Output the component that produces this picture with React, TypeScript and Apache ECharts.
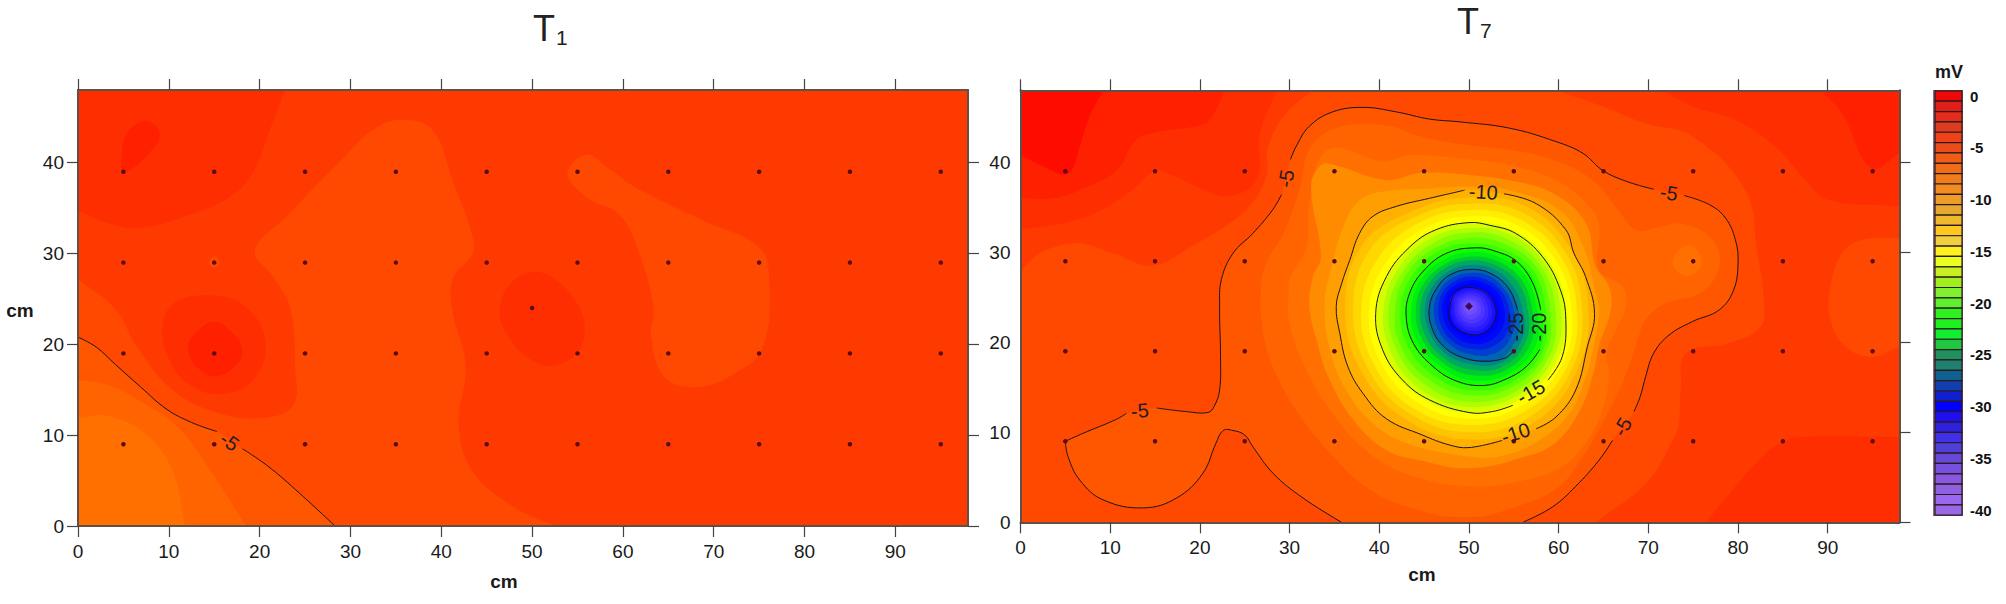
import React, { useEffect, useRef } from "react";
import * as echarts from "echarts";

type P = number[];
const FONT = "'Liberation Sans', Arial, sans-serif";

const X_TICKS = [0, 10, 20, 30, 40, 50, 60, 70, 80, 90];
const Y_TICKS = [0, 10, 20, 30, 40];
const X_MAX = 98;
const Y_MAX = 48;
const SENSOR_X = [5, 15, 25, 35, 45, 55, 65, 75, 85, 95];
const SENSOR_Y = [39, 29, 19, 9];
const CENTER_SENSOR = [50, 24];
const LEGEND_TICK_LEVELS = [0, -5, -10, -15, -20, -25, -30, -35, -40];

// colour of the band between level -k and level -(k+1)
const BAND_COLORS = [
  "#FF0C00", "#FF2000", "#FF2E00", "#FF3A00", "#FF4800", "#FF5600", "#FF6400", "#FF7000", "#FF8C00", "#FF9E00",
  "#FFB000", "#FFC400", "#FFD800", "#FFEE00", "#FFFF00", "#D8FF00", "#B0FF00", "#88FF00", "#60FF00", "#38FF00",
  "#10FF00", "#00EE10", "#00CC30", "#00A860", "#008888", "#0064B0", "#0040D0", "#0020E8", "#0008FA", "#0000FF",
  "#1810FF", "#2A1CFF", "#3C28FF", "#4E34FF", "#6040FF", "#704CFF", "#8058FF", "#8858FF", "#8C60FF", "#9060FF", "#9966FF",
];
const LEGEND_COLORS = [
  "#EE0808", "#E02018", "#E62C1C", "#DE3C20", "#F04218", "#EC4C1A", "#F05C14", "#F06C18", "#F07C1C", "#F08C20",
  "#EE9C28", "#E8A830", "#F0B82C", "#FFC820", "#F0D040", "#FFF020", "#E8FF20", "#C8F020", "#A0F020", "#80F030",
  "#60F030", "#30F020", "#20F020", "#10F030", "#20C840", "#209060", "#208070", "#106090", "#1040B0", "#1020D0",
  "#0000FF", "#2010F0", "#3020E0", "#4030E8", "#5040D8", "#6848D8", "#7850E0", "#8858E0", "#9060E0", "#9868F0", "#9868E8",
];

// ---------- T1: filled bands (x cm, y cm, corner flag) ----------
const FULL_PLOT: P[] = [[0, 0, 1], [98, 0, 1], [98, 48, 1], [0, 48, 1]];
const T1_TOPLEFT_2: P[] = [[0, 48, 1], [22.8, 48, 1], [20.9, 43], [19.2, 38.8], [16.7, 36.2], [11.8, 34.1], [6.9, 32.8], [3.4, 33.3], [0, 34.7, 1]];
const T1_TOPLEFT_1: P[] = [[4.8, 40.9], [5.5, 43.4], [7.6, 44.6], [9, 43.2], [7.9, 41.1], [5.1, 39]];
const T1_MID_4: P[] = [[0, 27.2, 1], [4.1, 23.9], [6.5, 19.7], [10.4, 15], [15.3, 12.5], [20.2, 11.9], [23.7, 13.3], [23.9, 17.6], [23.4, 23.9], [21.6, 27.3], [19.5, 30.3], [23, 34.1], [28.7, 40], [32.9, 43.9], [36.4, 44.7], [39.2, 43.4], [41.3, 37.9], [43.4, 32], [43.4, 29.9], [41.3, 27.3], [41.2, 23.9], [42.7, 17.6], [41.9, 11.2], [43.4, 6.1], [47.6, 2.3], [52.5, 0, 1], [0, 0, 1]];
const T1_RIGHT_4: P[] = [[53.9, 38.8], [56, 40.9], [58.1, 39.6], [61.7, 37.1], [68.7, 33.7], [75, 30.7], [76.1, 27.3], [75.4, 19.7], [72.2, 16.7], [68, 15.3], [64.5, 16.5], [63.1, 21], [63.4, 23.9], [61.7, 30.3], [59.6, 34.3], [56, 36.2]];
const T1_SPOT50_2: P[] = [[46.4, 23.5], [47.6, 26.7], [50.3, 28], [52.9, 26.9], [55, 24.4], [55.8, 21.9], [55, 19.1], [52.2, 17.6], [49.4, 18.6], [47.3, 21]];
const T1_SPOT15_2: P[] = [[9.3, 21.8], [10.4, 24.4], [13.9, 25.4], [18.1, 24.4], [20.6, 20.6], [19.5, 16.3], [15.7, 14.5], [11.8, 15.9], [9.8, 18.9]];
const T1_SPOT15_1: P[] = [[12.1, 19.5], [12.9, 21.2], [15, 22.5], [17.1, 21.2], [18.1, 19.5], [17.5, 17.8], [15.3, 16.5], [13.2, 17.4]];
const T1_SPOT29_4: P[] = [[14.4, 29], [15, 29.7], [15.6, 29], [15, 28.4]];
const T1_M5_A: P[] = [[0, 20.8, 1], [2, 19.7], [4.1, 17.8], [6.9, 15.3], [9.7, 12.9], [12.5, 11.4], [15.3, 10.4]];
const T1_M5_B: P[] = [[18.1, 8.5], [20.9, 6.6], [24.4, 3.6], [28.3, 0, 1]];
const T1_LOW_6: P[] = [[0, 16.1, 1], [3.4, 15.5], [7.6, 13.3], [11.1, 10.8], [14.6, 6.1], [18.5, 0, 1], [0, 0, 1]];
const T1_LOW_7: P[] = [[0, 11.9, 1], [3.4, 12.1], [7.6, 10], [10.4, 6.1], [11.8, 0, 1], [0, 0, 1]];

// ---------- T7: outer bands ----------
const T7_LEFT_3: P[] = [[0, 27.9, 1], [2.2, 29.9], [6.3, 31], [10.3, 29.9], [13.7, 28.6], [15.9, 28.8], [18.9, 30.6], [22.2, 32.5], [25.5, 35.1], [27.4, 38.4], [27.6, 41.7], [29.6, 45.4], [32.6, 48, 1], [0, 48, 1]];
const T7_LEFT_2: P[] = [[0, 32.5, 1], [6.3, 33.6], [10.3, 35.4], [12.9, 37.3], [15, 39.1], [16.3, 38.8], [19.6, 37.3], [23, 36.2], [26.3, 38], [26.7, 43.2], [28.6, 48, 1], [0, 48, 1]];
const T7_LEFT_1: P[] = [[0, 36, 1], [3.7, 36], [7, 37.1], [10.7, 39.1], [12.9, 42.5], [15.5, 43.4], [19.6, 44], [21.1, 44.7], [22.8, 48, 1], [0, 48, 1]];
const T7_LEFT_0: P[] = [[0, 40.8, 1], [3, 39.3], [5, 38.6], [5.9, 39.5], [6.6, 41.7], [7.7, 45.1], [9.2, 48, 1], [0, 48, 1]];
const T7_RIGHT_3: P[] = [[59.7, 48, 1], [64.9, 46.2], [69.7, 44.3], [74.9, 42.9], [80.8, 36.9], [82.1, 30.3], [82.9, 24.3], [82.5, 21.7], [79, 19.9], [74.2, 18.8], [73.6, 14.7], [73.4, 11], [72.7, 9.1], [69.7, 4.3], [64.1, 0, 1], [98, 0, 1], [98, 48, 1]];
const T7_RIGHT_SPOT_4: P[] = [[98, 31.6, 1], [93.8, 31.4], [91.6, 29.9], [90.3, 26.2], [90.3, 22.5], [92, 19.5], [94.9, 18.4], [98, 19.5, 1]];
const T7_RIGHT_TOP_2: P[] = [[71.6, 48, 1], [74.9, 46.2], [79.7, 44.7], [84.2, 41.7], [87.5, 38], [90.1, 35.8], [98, 35.1, 1], [98, 48, 1]];
const T7_RIGHT_TOP_1: P[] = [[89.2, 48, 1], [91.6, 45.4], [94.9, 39.3], [98, 41, 1], [98, 48, 1]];
const T7_RIGHT_LOW_2: P[] = [[76.4, 0, 1], [82.3, 6.9], [85.3, 9.1], [87.9, 9.5], [98, 9.5, 1], [98, 0, 1]];

// contour -5 in T7, pieces between its labels
const T7_M5_A: P[] = [[35.8, 0, 1], [31.5, 2.7], [28.2, 5.4], [25.9, 8.4], [25, 9.7], [23.7, 10.2], [22.6, 10.2], [21.8, 8.8], [20.3, 5.4], [17.4, 2.7], [13.7, 1.6], [9.2, 2.5], [6.6, 4.7], [5.3, 7.3], [5, 9]];
const T7_M5_B: P[] = [[5, 9], [7, 9.9], [10.6, 11.4], [11.8, 12.1]];
const T7_M5_C: P[] = [[15.2, 12.7], [18.5, 12.3], [20.9, 12.2], [21.6, 12.9], [22.2, 14.7], [22.3, 18.4], [22.2, 24], [22.4, 27], [23.7, 29.9], [25.9, 32.1], [28.1, 34.7], [29.1, 36.4]];
const T7_M5_D: P[] = [[30.1, 40.3], [30.7, 41.7], [32.2, 44], [34.8, 45.6], [38.2, 46.1], [41.9, 45.6], [45.6, 44.8], [48.9, 44.5], [54.5, 43.8], [59.7, 42.3], [62.7, 41], [64.9, 39.1], [67.5, 37.9], [70.6, 37]];
const T7_M5_E: P[] = [[74, 36.3], [76.8, 35.3], [78.6, 33.8], [79.7, 31.4], [80, 28.8], [79.5, 25.8], [77.9, 23.6], [74.9, 22.3], [72.3, 20.8], [70.6, 18.8], [69.7, 16.2], [69.1, 14], [68.4, 12.3]];
const T7_M5_F: P[] = [[66, 9.1], [64.5, 6.9], [61.9, 4], [59.3, 1.7], [56, 0, 1]];

const T7_M6: P[] = [[50, 0.55], [43, 1.75], [38.5, 3.95], [34.5, 7.7], [30.7, 12.5], [28.1, 17.3], [27, 21.4], [26.8, 25.8], [27.4, 28.8], [29.3, 32.1], [31.1, 36.9], [32.2, 41.4], [35.2, 43.8], [40.8, 44.1], [44.5, 42.9], [50, 41.9], [54.5, 41.4], [59.3, 40.3], [63.8, 38], [66.4, 35], [68.6, 32.5], [71.2, 32.8], [73.4, 33.2], [76.4, 32.1], [77.9, 29.9], [77.5, 27.3], [75.6, 25.4], [71.9, 24.3], [69.7, 22.5], [68.6, 19.5], [67.1, 15.5], [64.9, 11], [62.7, 7.3], [60.1, 4], [56.3, 2.1]];
const T7_SPOT75: P[] = [[72.7, 29], [73.6, 30.4], [74.9, 30.7], [76, 29], [74.9, 27.5], [73.4, 27.7]];
const T7_M7: P[] = [[50, 4], [43, 5.4], [38.5, 8], [34.5, 12.5], [31.5, 17.7], [30, 22.1], [29.9, 25.8], [30.1, 27.3], [31.9, 30.6], [32.2, 35.4], [33.3, 40.3], [35.2, 41.6], [40.4, 40.1], [43.4, 40.8], [50, 40.3], [54.5, 39.7], [59.7, 38], [63.4, 35.1], [64.5, 32.9], [64.5, 28], [67.1, 26.2], [67.5, 24], [66.4, 21.4], [65.3, 18.8], [65.6, 16.6], [64.9, 12.5], [63, 8.8], [60.4, 6.2], [56.3, 4.7]];
const T7_M8: P[] = [[50, 6], [44.5, 6.9], [40.8, 8], [37.1, 11.4], [34.3, 16.2], [33, 20.3], [32.2, 24], [32.6, 27.3], [33.5, 29.5], [32.4, 37.3], [33.5, 39.7], [35, 39.7], [40.8, 38], [44.5, 38.8], [50, 38.6], [54.5, 38], [59.3, 36.6], [63, 33.3], [64.1, 28.5], [65.6, 26.2], [65.8, 23.6], [64.5, 19.6], [63.8, 16.3], [62.3, 12.3], [59.7, 8.9], [56.3, 7.3]];
const T7_M9: P[] = [[50, 7.3], [43, 8.8], [39.3, 11], [36.3, 14.7], [34.5, 19.1], [33.9, 24], [34.5, 27.7], [36.5, 34], [38.5, 36.2], [41.9, 36.9], [46, 37.1], [50, 37.3], [54.5, 36.9], [60.1, 34.7], [62.7, 30.7], [64.1, 25.6], [64.5, 23.4], [63.8, 19.1], [63, 16.1], [61.2, 12.1], [57.8, 9.1], [53.7, 7.4]];

// contour lines around the minimum
const T7_M10_A: P[] = [[53.9, 36.5], [57.5, 35.4], [60.8, 32.5], [61.7, 29.9], [63, 27.3], [64, 23.2], [63.2, 19.5], [61.9, 14.7], [59.7, 11.7], [57.5, 10.4]];
const T7_M10_B: P[] = [[53.7, 9.1], [50, 8.3], [47.8, 8.6], [44.8, 9.7], [40.8, 11.5], [38.2, 14.3], [36.5, 17.3], [35.6, 21], [35.2, 24], [35.8, 26.5], [36.7, 29.1], [37.8, 32.1], [39.3, 34], [41.9, 35.1], [45.6, 36], [49.5, 36.9]];
const T7_M15: P[] = [[58.8, 15.8], [60.4, 18.4], [60.8, 22.5], [60.2, 25.8], [58.2, 29.5], [55.2, 32.1], [52.3, 33], [50, 33.3], [46.3, 32.5], [43.4, 30.6], [40.8, 27.3], [39.6, 23.2], [40.4, 19.1], [42.6, 15.8], [45.6, 13.6], [50, 12.2], [52.6, 12.3], [54.9, 13]];
const T7_M20: P[] = [[58, 23.6], [57.1, 26.6], [55.3, 29], [53, 30.1], [50.8, 30.5], [47.5, 29.9], [44.9, 27.9], [43.4, 25.5], [43, 22.9], [43.8, 19.9], [46, 17.3], [48.6, 15.7], [51.6, 15.2], [54.1, 15.9], [56.4, 17.3], [57.9, 19.2]];
const T7_M25: P[] = [[55.4, 23.6], [54.5, 25.9], [52.7, 27.5], [50.4, 28.1], [47.9, 27.5], [46.4, 26], [45.6, 24], [45.8, 21.8], [47.1, 19.6], [49.3, 18.3], [51.9, 17.9], [54.1, 18.3], [55.1, 19.2]];
const T7_M30: P[] = [[50.1, 26.1], [48.6, 25.7], [47.9, 24], [48, 22.1], [49.7, 21], [51.6, 21], [52.9, 22.5], [52.9, 24], [51.9, 25.5]];

// inner bands: radius (cm) from the minimum, along these directions
const PEAK_CENTER = [50, 24];
const PEAK_ANGLES = [0, 30, 60, 90, 120, 150, 180, 210, 240, 270, 300, 330];
const PEAK_LEVELS = [11, 12, 13, 14, 15, 16, 17, 18, 19, 20, 21, 22, 23, 24, 25, 26, 27, 28, 29, 30, 31, 32, 33, 34, 35, 36];
const PEAK_RADII = [
  [13.3, 13.0, 12.8, 12.1, 12.3, 13.7, 13.8, 14.0, 14.4, 14.8, 14.8, 14.0],
  [12.6, 12.3, 12.0, 11.4, 11.6, 12.7, 12.9, 13.2, 13.6, 14.0, 14.0, 13.4],
  [12.0, 11.6, 11.2, 10.7, 10.8, 11.4, 12.0, 12.4, 12.9, 13.2, 13.2, 12.8],
  [11.4, 10.9, 10.5, 10.0, 10.0, 10.4, 11.1, 11.6, 12.1, 12.5, 12.5, 12.2],
  [10.8, 10.2, 9.75, 9.3, 9.3, 9.5, 10.2, 10.8, 11.4, 11.8, 11.8, 11.5],
  [10.2, 9.7, 9.2, 8.7, 8.7, 8.9, 9.5, 10.1, 10.7, 11.2, 11.3, 11.0],
  [9.6, 9.2, 8.6, 8.2, 8.1, 8.3, 8.9, 9.4, 10.0, 10.6, 10.8, 10.5],
  [9.0, 8.7, 8.0, 7.6, 7.5, 7.8, 8.2, 8.8, 9.3, 9.9, 10.2, 10.0],
  [8.5, 8.2, 7.4, 7.0, 7.0, 7.2, 7.6, 8.1, 8.6, 9.3, 9.7, 9.6],
  [8.0, 7.7, 6.9, 6.5, 6.4, 6.6, 7.0, 7.5, 7.8, 8.8, 9.2, 9.2],
  [7.5, 7.1, 6.4, 6.0, 5.9, 6.1, 6.4, 6.9, 7.3, 8.2, 8.7, 8.6],
  [7.0, 6.5, 5.9, 5.5, 5.4, 5.6, 5.9, 6.3, 6.8, 7.6, 8.2, 8.0],
  [6.5, 6.0, 5.4, 5.1, 5.0, 5.1, 5.4, 5.8, 6.3, 7.0, 7.7, 7.4],
  [5.9, 5.3, 4.9, 4.6, 4.5, 4.6, 4.9, 5.2, 5.8, 6.4, 7.2, 6.9],
  [5.4, 4.7, 4.4, 4.15, 4.1, 4.15, 4.4, 4.7, 5.3, 5.9, 6.8, 6.3],
  [4.9, 4.3, 4.0, 3.7, 3.65, 3.7, 3.9, 4.2, 4.7, 5.3, 6.0, 5.7],
  [4.4, 3.9, 3.5, 3.3, 3.2, 3.3, 3.4, 3.7, 4.2, 4.7, 5.2, 5.1],
  [3.9, 3.5, 3.1, 2.9, 2.8, 2.9, 3.0, 3.2, 3.6, 4.1, 4.5, 4.4],
  [3.4, 3.0, 2.7, 2.5, 2.4, 2.55, 2.55, 2.75, 3.1, 3.6, 3.9, 3.8],
  [2.9, 2.6, 2.3, 2.1, 2.05, 2.25, 2.15, 2.35, 2.7, 3.1, 3.3, 3.2],
  [2.5, 2.25, 2.0, 1.85, 1.8, 1.95, 1.85, 2.05, 2.35, 2.7, 2.9, 2.8],
  [2.1, 1.9, 1.7, 1.55, 1.5, 1.65, 1.55, 1.75, 2.0, 2.3, 2.5, 2.4],
  [1.7, 1.55, 1.35, 1.25, 1.2, 1.3, 1.25, 1.4, 1.6, 1.9, 2.0, 1.95],
  [1.3, 1.15, 1.0, 0.95, 0.9, 1.0, 0.95, 1.05, 1.2, 1.45, 1.5, 1.5],
  [0.9, 0.8, 0.7, 0.65, 0.6, 0.7, 0.65, 0.7, 0.8, 1.0, 1.0, 1.0],
  [0.5, 0.45, 0.4, 0.35, 0.35, 0.4, 0.35, 0.4, 0.45, 0.55, 0.55, 0.55],
];

// contour labels: text, x, y, rotation in degrees
const T1_LABELS: any[][] = [["-5", 16.7, 9.3, -35]];
const T7_LABELS: any[][] = [
  ["-5", 13.3, 12.4, 5], ["-5", 29.6, 38.2, 80], ["-5", 72.3, 36.6, -8], ["-5", 67.1, 10.6, 60],
  ["-10", 51.6, 36.7, -3], ["-10", 55.2, 9.9, 18], ["-15", 56.9, 14.5, 30], ["-20", 57.8, 21.7, 90], ["-25", 55.2, 21.7, 90],
];

type Region = { band: number; pts: P[] };
const T1_REGIONS: Region[] = [
  { band: 3, pts: FULL_PLOT },
  { band: 2, pts: T1_TOPLEFT_2 },
  { band: 1, pts: T1_TOPLEFT_1 },
  { band: 4, pts: T1_MID_4 },
  { band: 4, pts: T1_RIGHT_4 },
  { band: 2, pts: T1_SPOT50_2 },
  { band: 2, pts: T1_SPOT15_2 },
  { band: 1, pts: T1_SPOT15_1 },
  { band: 4, pts: T1_SPOT29_4 },
  { band: 5, pts: [...T1_M5_A, ...T1_M5_B, [0, 0, 1]] },
  { band: 6, pts: T1_LOW_6 },
  { band: 7, pts: T1_LOW_7 },
];
const peakRegions: Region[] = PEAK_LEVELS.map((band, i) => ({
  band,
  pts: PEAK_ANGLES.map((a, j) => [
    PEAK_CENTER[0] + PEAK_RADII[i][j] * Math.cos((a * Math.PI) / 180),
    PEAK_CENTER[1] + PEAK_RADII[i][j] * Math.sin((a * Math.PI) / 180),
  ]),
}));
const T7_REGIONS: Region[] = [
  { band: 4, pts: FULL_PLOT },
  { band: 3, pts: T7_LEFT_3 },
  { band: 2, pts: T7_LEFT_2 },
  { band: 1, pts: T7_LEFT_1 },
  { band: 0, pts: T7_LEFT_0 },
  { band: 3, pts: T7_RIGHT_3 },
  { band: 4, pts: T7_RIGHT_SPOT_4 },
  { band: 2, pts: T7_RIGHT_TOP_2 },
  { band: 1, pts: T7_RIGHT_TOP_1 },
  { band: 2, pts: T7_RIGHT_LOW_2 },
  { band: 5, pts: [...T7_M5_A, ...T7_M5_B, ...T7_M5_C, ...T7_M5_D, ...T7_M5_E, ...T7_M5_F] },
  { band: 6, pts: T7_M6 },
  { band: 7, pts: T7_SPOT75 },
  { band: 7, pts: T7_M7 },
  { band: 8, pts: T7_M8 },
  { band: 9, pts: T7_M9 },
  { band: 10, pts: [...T7_M10_A, ...T7_M10_B] },
  ...peakRegions,
];
const T1_LINES: { pts: P[]; closed?: boolean }[] = [{ pts: T1_M5_A }, { pts: T1_M5_B }];
const T7_LINES: { pts: P[]; closed?: boolean }[] = [
  { pts: T7_M5_A }, { pts: T7_M5_B }, { pts: T7_M5_C }, { pts: T7_M5_D }, { pts: T7_M5_E }, { pts: T7_M5_F },
  { pts: T7_M10_A }, { pts: T7_M10_B }, { pts: T7_M15 }, { pts: T7_M20 }, { pts: T7_M25 }, { pts: T7_M30, closed: true },
];

const SMOOTH = 0.4;
const expand = (pts: P[]) => pts.flatMap((p) => (p[2] ? [p, p] : [p]));
const sensors = [...SENSOR_Y.flatMap((y) => SENSOR_X.map((x) => [x, y])), CENTER_SENSOR];

function areaSeries(regions: Region[], axis: number) {
  return {
    type: "custom", xAxisIndex: axis, yAxisIndex: axis, clip: true, silent: true, z: 1,
    data: regions.map((r) => [r.pts[0][0], r.pts[0][1]]),
    renderItem: (params: any, api: any) => {
      const r = regions[params.dataIndex];
      return {
        type: "polygon",
        shape: { points: expand(r.pts).map((p) => api.coord([p[0], p[1]])), smooth: SMOOTH },
        style: { fill: BAND_COLORS[r.band], stroke: "none" },
      };
    },
  };
}
function lineSeries(lines: { pts: P[]; closed?: boolean }[], axis: number) {
  return {
    type: "custom", xAxisIndex: axis, yAxisIndex: axis, clip: true, silent: true, z: 2,
    data: lines.map((l) => [l.pts[0][0], l.pts[0][1]]),
    renderItem: (params: any, api: any) => {
      const l = lines[params.dataIndex];
      const points = l.pts.map((p) => api.coord([p[0], p[1]]));
      return {
        type: l.closed ? "polygon" : "polyline",
        shape: { points, smooth: SMOOTH },
        style: { fill: "none", stroke: "#1c1420", lineWidth: 1 },
      };
    },
  };
}
function labelSeries(labels: any[][], axis: number) {
  return {
    type: "custom", xAxisIndex: axis, yAxisIndex: axis, clip: false, silent: true, z: 4,
    data: labels.map((l) => [l[1], l[2]]),
    renderItem: (params: any, api: any) => {
      const l = labels[params.dataIndex];
      const c = api.coord([l[1], l[2]]);
      return {
        type: "text", x: c[0], y: c[1], rotation: (l[3] * Math.PI) / 180,
        style: { text: l[0], fill: "#241a28", font: `20px ${FONT}`, align: "center", verticalAlign: "middle" },
      };
    },
  };
}
function sensorSeries(axis: number, centerDiamond: boolean) {
  return {
    type: "scatter", xAxisIndex: axis, yAxisIndex: axis, silent: true, z: 3,
    symbol: "circle", symbolSize: 4.5,
    itemStyle: { color: "#5a0c14", opacity: 1 },
    data: sensors.map((s) =>
      centerDiamond && s === CENTER_SENSOR
        ? { value: s, symbol: "diamond", symbolSize: 8, itemStyle: { color: "#3a0a50" } }
        : { value: s }
    ),
  };
}
const TICK = { show: true, length: 11, lineStyle: { color: "#444", width: 1.2 } };
const FRAME = { show: true, onZero: false, lineStyle: { color: "#5f5048", width: 2 } };
const NUM = { color: "#1a1a1a", fontFamily: FONT, fontSize: 19 };

function xAxes(grid: number) {
  const base = { type: "value", gridIndex: grid, min: 0, max: X_MAX, interval: 10, splitLine: { show: false }, z: 5, axisLine: FRAME };
  return [
    { ...base, position: "bottom", axisTick: { ...TICK, customValues: X_TICKS }, axisLabel: { ...NUM, margin: 16, customValues: X_TICKS } },
    { ...base, position: "top", axisTick: { ...TICK, customValues: X_TICKS }, axisLabel: { show: false } },
  ];
}
function yAxes(grid: number, leftTicks: boolean, margin: number) {
  const base = { type: "value", gridIndex: grid, min: 0, max: Y_MAX, interval: 10, splitLine: { show: false }, z: 5, axisLine: FRAME };
  return [
    {
      ...base, position: "left",
      axisTick: leftTicks ? { ...TICK, customValues: Y_TICKS } : { show: false },
      axisLabel: { ...NUM, margin, customValues: Y_TICKS },
    },
    { ...base, position: "right", axisTick: { ...TICK, customValues: Y_TICKS }, axisLabel: { show: false } },
  ];
}
const titleRich = {
  a: { fontFamily: FONT, fontSize: 36, color: "#222", fontWeight: "normal" as const },
  b: { fontFamily: FONT, fontSize: 21, color: "#222", fontWeight: "normal" as const, padding: [18, 0, 0, 1] },
};
const boldText = (text: string, x: number, y: number, size: number) => ({
  type: "text", x, y,
  style: { text, fill: "#1a1a1a", font: `bold ${size}px ${FONT}`, align: "center", verticalAlign: "middle" },
});

export default function App() {
  const ref = useRef<HTMLDivElement>(null);
  useEffect(() => {
    const chart = echarts.init(ref.current!, undefined, { renderer: "svg" });
    const xa = xAxes(0), xb = xAxes(1);
    const ya = yAxes(0, true, 14), yb = yAxes(1, false, 10);
    chart.setOption({
      animation: false,
      backgroundColor: "#fff",
      title: [
        { text: "{a|T}{b|1}", left: 528, top: 4, textStyle: { rich: titleRich } },
        { text: "{a|T}{b|7}", left: 1452, top: -3, textStyle: { rich: titleRich } },
      ],
      grid: [
        { left: 78, top: 90, width: 890, height: 436 },
        { left: 1020.5, top: 90.3, width: 879, height: 432 },
        { left: 1935, top: 96, width: 27, height: 414 },
      ],
      xAxis: [
        ...xa, ...xb,
        { type: "value", gridIndex: 2, min: 0, max: 1, show: false },
      ],
      yAxis: [
        ...ya, ...yb,
        {
          type: "value", gridIndex: 2, min: LEGEND_TICK_LEVELS[8], max: LEGEND_TICK_LEVELS[0], interval: 5,
          position: "right", axisLine: { show: false }, axisTick: { show: false }, splitLine: { show: false },
          axisLabel: { color: "#111", fontFamily: FONT, fontSize: 15, fontWeight: "bold", margin: 8 },
        },
      ],
      graphic: [
        { type: "rect", z: -1, shape: { x: 1933, y: 90, width: 30, height: 426 }, style: { fill: "#8a6a80" } },
        boldText("cm", 20, 310, 19),
        boldText("cm", 504, 581, 19),
        boldText("cm", 1422, 574, 19),
        boldText("mV", 1949, 72, 18),
      ],
      series: [
        areaSeries(T1_REGIONS, 0),
        lineSeries(T1_LINES, 0),
        sensorSeries(0, false),
        labelSeries(T1_LABELS, 0),
        areaSeries(T7_REGIONS, 2),
        lineSeries(T7_LINES, 2),
        sensorSeries(2, true),
        labelSeries(T7_LABELS, 2),
        {
          type: "custom", xAxisIndex: 4, yAxisIndex: 4, silent: true, z: 2, clip: false,
          data: LEGEND_COLORS.map((_, k) => [0.5, -k]),
          renderItem: (params: any, api: any) => {
            const k = params.dataIndex;
            const a = api.coord([0, -k + 0.5]);
            const b = api.coord([1, -k - 0.5]);
            return {
              type: "rect",
              shape: { x: a[0], y: a[1], width: b[0] - a[0], height: b[1] - a[1] },
              style: { fill: LEGEND_COLORS[k], stroke: "#2a1a1c", lineWidth: 1.2 },
            };
          },
        },
      ],
    });
    return () => chart.dispose();
  }, []);
  return <div ref={ref} style={{ position: "fixed", left: 0, top: 0, width: 2006, height: 604 }} />;
}
